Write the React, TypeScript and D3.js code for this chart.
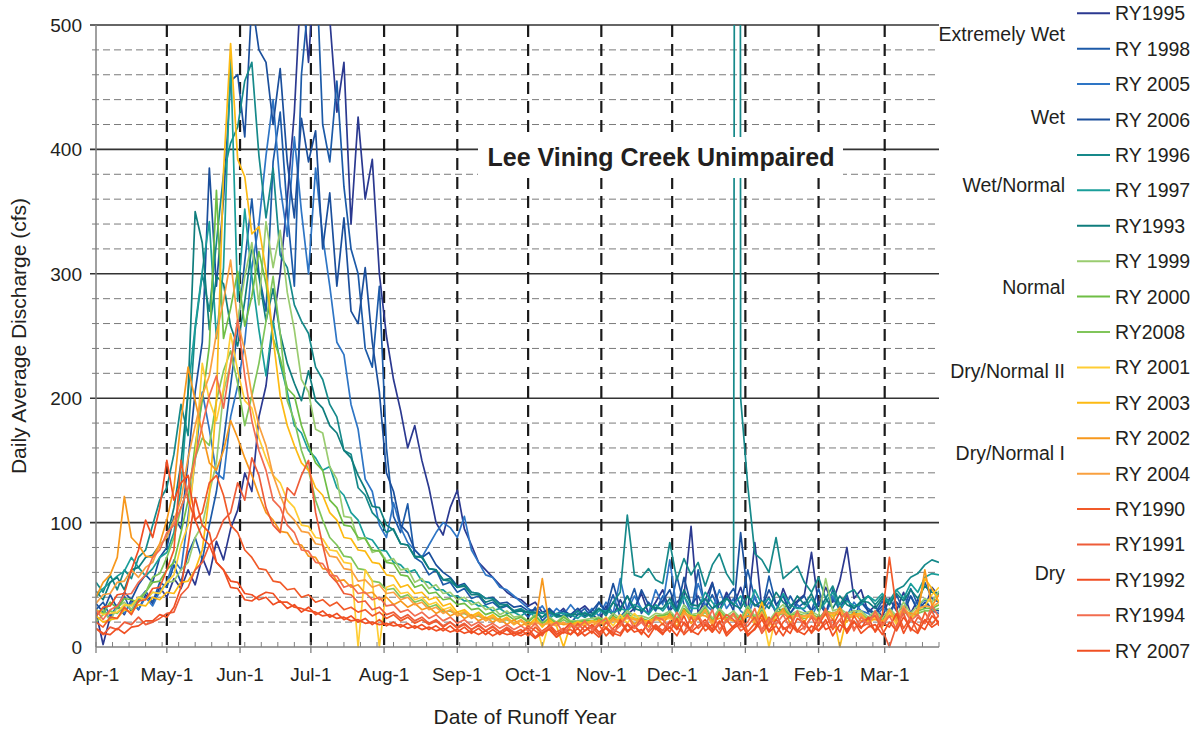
import React from "react";
import * as d3 from "d3";

// ---------- axis labels ----------
const monthLabels = ["Apr-1", "May-1", "Jun-1", "Jul-1", "Aug-1", "Sep-1", "Oct-1", "Nov-1", "Dec-1", "Jan-1", "Feb-1", "Mar-1"];
const monthStartDays = [0, 30, 61, 91, 122, 153, 183, 214, 244, 275, 306, 334];
const yMajorTicks = [0, 100, 200, 300, 400, 500];
const SAMPLE_STEP = 3; // days between successive values
const LAST_DAY = 357;

// ---------- series values (cfs), one value every 3 days from Apr-1 ----------
const ry1995 = [
  28, 2, 24, 33, 26, 38, 30, 42, 35, 48,
  40, 55, 47, 62, 50, 72, 58, 85, 70, 95,
  110, 140, 125, 185, 210, 260, 300, 360, 430, 540,
  470, 560, 600, 505, 430, 470, 340, 426, 360, 392,
  300, 250, 215, 190, 160, 178, 150, 128, 100, 90,
  112, 126, 95, 82, 68, 62, 56, 50, 44, 40,
  38, 33, 36, 28, 30, 26, 31, 24, 29, 33,
  27, 21, 33, 25, 38, 26, 31, 43, 27, 36,
  46, 29, 36, 41, 97, 27, 38, 52, 29, 44,
  33, 48, 29, 84, 31, 40, 27, 47, 33, 37,
  42, 76, 33, 48, 36, 53, 80, 39, 46, 28,
  33, 24, 39, 29, 44, 27, 38, 31, 48, 41,
];
const ry1998 = [
  30, 36, 25, 33, 41, 28, 38, 45, 36, 52,
  48, 66, 52, 75, 88, 70, 98, 125, 165, 210,
  255, 310, 360, 300, 270, 390, 430, 350, 290, 460,
  520, 560, 420, 390, 455, 370, 320, 300, 240, 225,
  290, 160, 105, 92, 115, 72, 68, 58, 62, 50,
  52, 44, 47, 39, 41, 34, 36, 31, 33, 29,
  30, 24, 32, 21, 27, 25, 29, 19, 26, 31,
  23, 36, 27, 42, 24, 31, 47, 27, 36, 29,
  41, 28, 57, 34, 27, 62, 31, 42, 29, 39,
  47, 33, 62, 39, 29, 57, 34, 27, 41, 31,
  36, 29, 47, 27, 39, 31, 42, 24, 36, 31,
  27, 37, 24, 42, 29, 47, 34, 52, 39, 36,
];
const ry2005 = [
  25, 31, 22, 34, 27, 36, 30, 40, 33, 45,
  52, 70, 62, 105, 150, 205, 175, 140, 135, 185,
  210, 245, 305, 340, 395, 440, 370, 330, 410, 350,
  300, 385, 330, 290, 245, 235, 195, 175, 135, 125,
  98, 88, 116, 96, 84, 78, 72, 82, 92, 100,
  96, 88, 105, 78, 68, 58, 56, 48, 46, 41,
  36, 31, 27, 33, 24, 31, 26, 34, 27, 24,
  31, 25, 36, 27, 55, 29, 41, 31, 27, 46,
  34, 70, 29, 41, 27, 51, 34, 29, 46, 31,
  39, 29, 24, 41, 27, 36, 29, 43, 27, 34,
  29, 24, 36, 27, 41, 29, 25, 36, 29, 27,
  24, 31, 27, 36, 29, 41, 31, 39, 29, 27,
];
const ry2006 = [
  35, 28, 42, 31, 44, 38, 50, 58, 52, 72,
  80, 105, 95, 150, 205, 245, 385, 290, 360, 455,
  460, 410, 520, 480, 470, 420, 465, 390, 345, 425,
  390, 415, 320, 365, 290, 345, 270, 260, 305, 245,
  205, 140, 125, 98, 92, 78, 72, 76, 66, 60,
  56, 49, 51, 44, 43, 39, 40, 35, 36, 32,
  33, 29, 30, 27, 31, 25, 29, 26, 31, 25,
  29, 36, 29, 51, 31, 41, 29, 46, 34, 31,
  37, 46, 29, 56, 34, 41, 29, 51, 34, 41,
  29, 92, 41, 34, 31, 46, 34, 41, 27, 36,
  41, 29, 36, 27, 46, 29, 39, 31, 36, 29,
  27, 33, 29, 36, 27, 41, 29, 36, 31, 29,
];
const ry1996 = [
  52, 44, 58, 46, 62, 55, 72, 78, 98, 118,
  128, 155, 195, 170, 255, 300, 270, 325, 380, 405,
  418, 455, 470, 395, 345, 385, 315, 305, 275, 262,
  252, 225, 215, 195, 185, 158, 155, 128, 122, 108,
  102, 92, 95, 83, 82, 72, 73, 63, 62, 54,
  53, 48, 50, 44, 43, 39, 39, 34, 34, 29,
  31, 27, 27, 24, 28, 24, 25, 25, 29, 24,
  27, 31, 25, 36, 44, 106, 58, 56, 63, 54,
  51, 84, 54, 71, 58, 68, 49, 66, 75, 59,
  50, 200, 130, 75, 70, 60, 88, 55, 60, 65,
  52, 44, 56, 39, 49, 34, 43, 46, 37, 41,
  34, 41, 37, 46, 49, 56, 59, 66, 70, 68,
];
// the New Year 1997 flood peak, [day, cfs]
const ry1996FloodPeak = [[272, 3000]];
const ry1997 = [
  40, 47, 52, 57, 61, 72, 64, 57, 63, 72,
  76, 92, 128, 205, 258, 302, 342, 248, 305, 475,
  278, 352, 298, 255, 218, 262, 228, 205, 178, 172,
  158, 152, 142, 145, 128, 122, 108, 102, 88, 86,
  78, 77, 68, 66, 60, 62, 53, 52, 46, 46,
  41, 41, 37, 37, 33, 33, 29, 31, 27, 28,
  25, 29, 24, 28, 23, 27, 27, 26, 23, 28,
  24, 29, 29, 27, 31, 29, 34, 31, 26, 34,
  29, 36, 27, 41, 31, 31, 44, 36, 29, 39,
  34, 41, 29, 46, 34, 39, 29, 43, 34, 31,
  31, 39, 29, 36, 44, 31, 37, 33, 34, 41,
  37, 43, 34, 46, 39, 51, 44, 56, 59, 58,
];
const ry1993 = [
  45, 38, 52, 56, 46, 62, 64, 72, 74, 82,
  88, 112, 148, 205, 350, 325, 255, 298, 292, 258,
  242, 278, 322, 298, 262, 288, 252, 228, 212, 198,
  222, 198, 192, 178, 172, 158, 152, 138, 127, 113,
  112, 98, 94, 83, 82, 73, 72, 63, 62, 54,
  55, 48, 49, 42, 42, 36, 38, 32, 34, 28,
  29, 28, 28, 24, 29, 25, 25, 26, 26, 27,
  25, 31, 27, 36, 29, 41, 31, 29, 34, 31,
  31, 39, 29, 46, 34, 33, 39, 31, 35, 39,
  34, 31, 41, 33, 37, 31, 44, 36, 31, 41,
  34, 43, 29, 39, 31, 41, 34, 31, 37, 36,
  31, 39, 34, 43, 37, 46, 39, 49, 44, 43,
];
const ry1999 = [
  25, 30, 21, 32, 36, 30, 40, 38, 44, 43,
  52, 53, 62, 68, 88, 98, 124, 148, 205, 228,
  262, 298, 325, 275, 342, 305, 335, 285, 255, 215,
  205, 175, 172, 145, 135, 105, 104, 86, 88, 76,
  78, 69, 71, 62, 63, 52, 55, 47, 50, 43,
  44, 38, 40, 34, 36, 30, 32, 26, 29, 24,
  25, 21, 26, 19, 24, 20, 25, 21, 21, 22,
  23, 24, 21, 27, 23, 29, 25, 25, 23, 27,
  26, 29, 23, 34, 26, 27, 33, 23, 31, 25,
  29, 23, 33, 25, 31, 21, 29, 34, 26, 29,
  27, 29, 25, 55, 29, 31, 27, 29, 29, 24,
  29, 23, 31, 25, 36, 27, 33, 39, 36, 45,
];
const ry2000 = [
  30, 27, 36, 31, 39, 38, 36, 44, 52, 53,
  62, 68, 92, 118, 162, 198, 242, 367, 248, 272,
  302, 258, 282, 318, 292, 248, 232, 208, 202, 178,
  162, 148, 142, 118, 112, 98, 97, 88, 87, 78,
  77, 68, 67, 58, 57, 48, 50, 43, 44, 38,
  39, 34, 35, 30, 31, 26, 28, 24, 26, 22,
  24, 20, 25, 19, 23, 19, 24, 20, 20, 21,
  21, 23, 20, 25, 22, 27, 23, 23, 21, 25,
  25, 27, 21, 31, 25, 25, 31, 21, 29, 23,
  27, 21, 31, 23, 29, 19, 27, 31, 25, 27,
  25, 27, 23, 29, 27, 29, 25, 27, 27, 22,
  27, 21, 29, 23, 31, 25, 29, 31, 31, 34,
];
const ry2008 = [
  20, 26, 29, 27, 33, 34, 39, 44, 56, 59,
  72, 88, 112, 128, 152, 168, 162, 198, 222, 238,
  212, 178, 202, 228, 262, 298, 252, 198, 182, 158,
  142, 118, 102, 88, 82, 73, 72, 63, 62, 53,
  52, 46, 47, 40, 42, 36, 38, 32, 34, 28,
  29, 26, 27, 24, 25, 22, 23, 21, 22, 19,
  21, 18, 22, 17, 21, 18, 22, 19, 19, 19,
  20, 21, 19, 23, 21, 24, 22, 22, 20, 23,
  23, 25, 20, 27, 23, 23, 28, 19, 26, 21,
  25, 19, 28, 21, 26, 18, 25, 27, 23, 25,
  23, 25, 21, 26, 25, 27, 23, 25, 25, 20,
  25, 19, 27, 21, 29, 23, 27, 29, 29, 31,
];
const ry2001 = [
  30, 26, 27, 28, 34, 33, 40, 38, 44, 43,
  52, 58, 82, 98, 152, 228, 198, 182, 208, 252,
  222, 198, 192, 168, 152, 138, 132, 118, 112, 98,
  97, 88, 87, 78, 77, 68, 67, 0, 62, 53,
  0, 48, 50, 43, 44, 38, 40, 34, 36, 30,
  32, 26, 29, 24, 27, 22, 25, 20, 23, 18,
  21, 16, 22, 0, 20, 18, 19, 17, 20, 18,
  20, 18, 24, 17, 26, 19, 27, 21, 20, 22,
  22, 23, 20, 28, 24, 22, 30, 17, 28, 20,
  26, 16, 30, 18, 28, 0, 26, 28, 24, 26,
  24, 24, 20, 26, 26, 28, 24, 24, 26, 18,
  24, 16, 28, 18, 32, 22, 30, 33, 42, 48,
];
const ry2003 = [
  25, 20, 22, 23, 30, 28, 34, 33, 40, 38,
  44, 43, 52, 53, 62, 78, 122, 198, 382, 485,
  392, 378, 332, 338, 302, 248, 202, 178, 162, 148,
  142, 128, 122, 108, 102, 88, 87, 78, 77, 68,
  67, 58, 57, 48, 50, 43, 44, 38, 40, 33,
  35, 28, 30, 25, 28, 23, 26, 21, 24, 19,
  22, 17, 23, 16, 22, 17, 0, 18, 20, 19,
  21, 20, 20, 22, 22, 24, 23, 21, 21, 23,
  24, 25, 21, 27, 25, 23, 30, 19, 28, 21,
  27, 18, 30, 20, 36, 17, 27, 28, 24, 25,
  25, 26, 22, 27, 27, 0, 25, 26, 27, 20,
  27, 18, 30, 21, 32, 24, 30, 55, 47, 36,
];
const ry2002 = [
  40, 52, 58, 72, 121, 88, 82, 73, 72, 83,
  102, 128, 182, 225, 198, 172, 148, 142, 158, 182,
  168, 152, 138, 122, 108, 102, 93, 92, 83, 82,
  73, 72, 63, 62, 53, 54, 48, 50, 43, 44,
  38, 40, 34, 37, 32, 35, 30, 32, 27, 30,
  25, 28, 23, 26, 21, 24, 20, 23, 18, 22,
  17, 20, 18, 55, 17, 20, 18, 19, 17, 20,
  16, 22, 15, 24, 17, 26, 18, 24, 16, 25,
  18, 27, 16, 30, 19, 26, 25, 21, 23, 23,
  21, 21, 25, 23, 23, 20, 22, 31, 19, 28,
  20, 29, 17, 30, 22, 32, 20, 28, 21, 22,
  22, 21, 25, 24, 28, 27, 26, 62, 33, 42,
];
const ry2004 = [
  35, 42, 43, 52, 53, 62, 56, 64, 68, 82,
  88, 102, 118, 152, 178, 202, 218, 252, 278, 311,
  262, 238, 202, 178, 162, 138, 122, 108, 102, 93,
  92, 83, 82, 73, 72, 63, 62, 53, 54, 48,
  50, 43, 44, 38, 40, 34, 36, 30, 32, 27,
  30, 25, 28, 23, 26, 21, 24, 20, 23, 18,
  22, 17, 20, 18, 19, 17, 20, 16, 19, 17,
  20, 19, 19, 21, 21, 23, 22, 20, 20, 22,
  23, 24, 20, 27, 24, 23, 30, 18, 28, 20,
  26, 18, 30, 20, 28, 17, 27, 28, 24, 25,
  25, 26, 22, 27, 27, 29, 25, 25, 26, 19,
  27, 18, 30, 21, 33, 24, 31, 33, 32, 36,
];
const ry1990 = [
  20, 16, 24, 23, 32, 26, 37, 38, 47, 48,
  62, 78, 150, 118, 102, 108, 132, 138, 122, 98,
  92, 78, 72, 63, 62, 53, 52, 46, 47, 40,
  42, 36, 38, 33, 36, 30, 32, 28, 30, 25,
  28, 23, 26, 21, 24, 19, 22, 18, 21, 16,
  20, 15, 18, 14, 17, 13, 16, 12, 15, 11,
  14, 9, 16, 11, 15, 8, 13, 14, 10, 17,
  11, 18, 9, 15, 20, 12, 17, 10, 21, 14,
  19, 12, 23, 10, 16, 24, 13, 18, 11, 22,
  15, 26, 12, 19, 14, 24, 10, 20, 25, 13,
  21, 11, 18, 27, 14, 22, 12, 25, 16, 19,
  13, 26, 72, 30, 15, 24, 12, 28, 18, 26,
];
const ry1991 = [
  15, 10, 16, 14, 20, 18, 24, 18, 20, 23,
  27, 28, 42, 48, 62, 68, 82, 88, 102, 108,
  132, 118, 152, 138, 112, 98, 92, 128, 122, 138,
  150, 108, 82, 58, 52, 43, 42, 36, 37, 30,
  32, 26, 28, 23, 26, 21, 24, 19, 22, 17,
  20, 16, 19, 14, 18, 13, 17, 12, 16, 12,
  11, 17, 13, 9, 18, 12, 15, 10, 19, 13,
  16, 10, 20, 14, 11, 19, 15, 23, 12, 18,
  13, 21, 16, 11, 24, 15, 20, 12, 19, 26,
  22, 13, 17, 24, 11, 19, 27, 14, 18, 12,
  16, 24, 13, 19, 22, 12, 26, 15, 20, 23,
  25, 14, 0, 17, 27, 13, 24, 19, 29, 17,
];
const ry1992 = [
  25, 32, 33, 42, 43, 62, 78, 102, 88, 112,
  150, 118, 132, 138, 102, 88, 82, 68, 62, 53,
  52, 43, 42, 38, 40, 34, 37, 31, 34, 28,
  32, 26, 29, 24, 27, 22, 25, 20, 23, 18,
  22, 17, 20, 16, 19, 15, 18, 14, 17, 13,
  17, 12, 16, 11, 15, 10, 14, 10, 14, 9,
  12, 15, 8, 13, 17, 10, 14, 19, 9, 13,
  18, 12, 15, 9, 22, 13, 17, 11, 20, 15,
  10, 20, 14, 25, 12, 17, 22, 14, 28, 11,
  17, 21, 9, 15, 26, 13, 22, 16, 11, 23,
  19, 12, 24, 14, 17, 28, 11, 20, 15, 24,
  12, 20, 16, 27, 11, 22, 18, 14, 25, 20,
];
const ry1994 = [
  30, 22, 30, 33, 42, 43, 52, 58, 72, 78,
  92, 98, 112, 128, 152, 178, 202, 218, 192, 228,
  263, 218, 182, 158, 142, 118, 112, 98, 92, 78,
  77, 68, 67, 58, 57, 48, 50, 43, 44, 38,
  40, 33, 34, 28, 30, 25, 28, 23, 26, 21,
  24, 19, 22, 17, 20, 16, 19, 15, 18, 14,
  17, 13, 19, 12, 16, 20, 11, 18, 15, 21,
  14, 19, 23, 12, 17, 26, 15, 20, 13, 24,
  22, 15, 28, 18, 13, 25, 17, 30, 14, 21,
  27, 16, 20, 31, 13, 23, 18, 26, 15, 29,
  14, 25, 19, 31, 16, 22, 28, 13, 24, 18,
  29, 17, 25, 14, 31, 21, 26, 19, 33, 24,
];
const ry2007 = [
  15, 11, 10, 15, 11, 16, 17, 21, 21, 26,
  24, 32, 48, 82, 120, 98, 92, 68, 62, 48,
  47, 38, 37, 41, 44, 43, 36, 36, 32, 31,
  29, 28, 25, 26, 23, 24, 21, 22, 19, 20,
  18, 19, 17, 18, 15, 17, 14, 16, 13, 15,
  12, 14, 11, 13, 10, 13, 9, 12, 10, 11,
  9, 12, 7, 11, 14, 8, 12, 10, 15, 9,
  13, 8, 16, 11, 9, 18, 12, 14, 8, 17,
  11, 16, 9, 20, 13, 10, 18, 12, 21, 9,
  15, 19, 10, 14, 22, 12, 17, 9, 19, 13,
  10, 17, 13, 22, 9, 18, 14, 21, 11, 16,
  18, 10, 20, 13, 24, 15, 11, 22, 16, 20,
];

const seriesNames = ["RY1995", "RY 1998", "RY 2005", "RY 2006", "RY 1996", "RY 1997", "RY1993", "RY 1999", "RY 2000", "RY2008", "RY 2001", "RY 2003", "RY 2002", "RY 2004", "RY1990", "RY1991", "RY1992", "RY1994", "RY 2007"];
const seriesValues = [ry1995, ry1998, ry2005, ry2006, ry1996, ry1997, ry1993, ry1999, ry2000, ry2008, ry2001, ry2003, ry2002, ry2004, ry1990, ry1991, ry1992, ry1994, ry2007];
const seriesExtraPoints: Record<string, number[][]> = { "RY 1996": ry1996FloodPeak };
const seriesColors = ["#2b3990", "#1c5aa8", "#2e75c5", "#1b4f9c", "#16898a", "#1a9e9a", "#0f7d7d", "#9acc70", "#6fbe45", "#80c55a", "#ffcd34", "#fdba13", "#f7981d", "#f9a03f", "#f15a29", "#ee5c38", "#f04e23", "#f26c4f", "#f05023"];
const yearTypes = ["Extremely Wet", "Wet", "Wet/Normal", "Normal", "Dry/Normal II", "Dry/Normal I", "Dry"];

// ---------- layout ----------
const W = 1197, H = 731;
const L = 96, R = 939, T = 25, B = 647;
const FONT = "'Liberation Sans', Arial, Helvetica, sans-serif";
const TXT = "#231f20";
const legendY0 = 13.3, legendDY = 35.41;
const yearTypeY = [41, 124, 192, 294, 378, 460, 580];

export default function App() {
  const x = d3.scaleLinear().domain([0, LAST_DAY]).range([L, R]);
  const y = d3.scaleLinear().domain([0, 500]).range([B, T]);
  const line = d3.line<number[]>().x((d) => x(d[0])).y((d) => y(d[1]));
  const minorY = d3.range(20, 500, 20).filter((v) => v % 100 !== 0);
  const weekTicks = d3.range(0, LAST_DAY + 1, 7);

  const paths = seriesNames.map((name, si) => {
    const pts = seriesValues[si].map((v, i) => [i * SAMPLE_STEP, v]);
    const extra = seriesExtraPoints[name] || [];
    const all = pts.concat(extra).sort((a, b) => a[0] - b[0]);
    return { name, color: seriesColors[si], d: line(all) || "" };
  });

  return (
    <svg width={W} height={H} style={{ position: "absolute", left: 0, top: 0, background: "#fff" }} fontFamily={FONT}>
      <defs>
        <clipPath id="plotClip">
          <rect x={L} y={T} width={R - L} height={B - T + 1} />
        </clipPath>
      </defs>
      {/* horizontal grid */}
      {minorY.map((v) => (
        <line key={"hm" + v} x1={L - 4} x2={R} y1={y(v)} y2={y(v)} stroke="#7a7a7a" strokeWidth={1} strokeDasharray="7,4" />
      ))}
      {yMajorTicks.filter((v) => v > 0).map((v) => (
        <line key={"hM" + v} x1={L - 6} x2={R} y1={y(v)} y2={y(v)} stroke="#333" strokeWidth={1.6} />
      ))}
      {/* vertical month lines */}
      {monthStartDays.slice(1).map((d) => (
        <line key={"v" + d} x1={x(d)} x2={x(d)} y1={T} y2={B} stroke="#1a1a1a" strokeWidth={2.2} strokeDasharray="12,7" />
      ))}
      {/* data */}
      <g clipPath="url(#plotClip)">
        {paths.map((p) => (
          <path key={p.name} d={p.d} fill="none" stroke={p.color} strokeWidth={1.7} strokeLinejoin="round" />
        ))}
      </g>
      {/* axes */}
      <line x1={L} x2={L} y1={T} y2={B} stroke="#808080" strokeWidth={1.5} />
      <line x1={L} x2={R} y1={B} y2={B} stroke="#808080" strokeWidth={1.5} />
      {weekTicks.map((d) => (
        <line key={"wt" + d} x1={x(d)} x2={x(d)} y1={B - 5} y2={B} stroke="#808080" strokeWidth={1} />
      ))}
      {monthStartDays.map((d) => (
        <line key={"mt" + d} x1={x(d)} x2={x(d)} y1={B} y2={B + 6} stroke="#808080" strokeWidth={1.3} />
      ))}
      {monthStartDays.map((d, i) => (
        <text key={"ml" + d} x={x(d)} y={681} textAnchor="middle" fontSize={19} fill={TXT}>{monthLabels[i]}</text>
      ))}
      {yMajorTicks.map((v) => (
        <text key={"yl" + v} x={82} y={y(v) + 7} textAnchor="end" fontSize={19} fill={TXT}>{v}</text>
      ))}
      <text transform={`translate(26,${(T + B) / 2}) rotate(-90)`} textAnchor="middle" fontSize={21} fill={TXT}>Daily Average Discharge (cfs)</text>
      <text x={525} y={724} textAnchor="middle" fontSize={21} fill={TXT}>Date of Runoff Year</text>
      {/* title */}
      <rect x={478} y={137} width={365} height={41} fill="#fff" />
      <text x={661} y={166} textAnchor="middle" fontSize={25} fontWeight="bold" fill={TXT}>Lee Vining Creek Unimpaired</text>
      {/* legend */}
      {paths.map((p, i) => (
        <g key={"lg" + p.name}>
          <line x1={1077} x2={1110} y1={legendY0 + i * legendDY} y2={legendY0 + i * legendDY} stroke={p.color} strokeWidth={2} />
          <text x={1115} y={legendY0 + i * legendDY + 7} fontSize={19.5} fill={TXT}>{p.name}</text>
        </g>
      ))}
      {yearTypes.map((t, i) => (
        <text key={"yt" + t} x={1065} y={yearTypeY[i]} textAnchor="end" fontSize={19.5} fill={TXT}>{t}</text>
      ))}
    </svg>
  );
}
